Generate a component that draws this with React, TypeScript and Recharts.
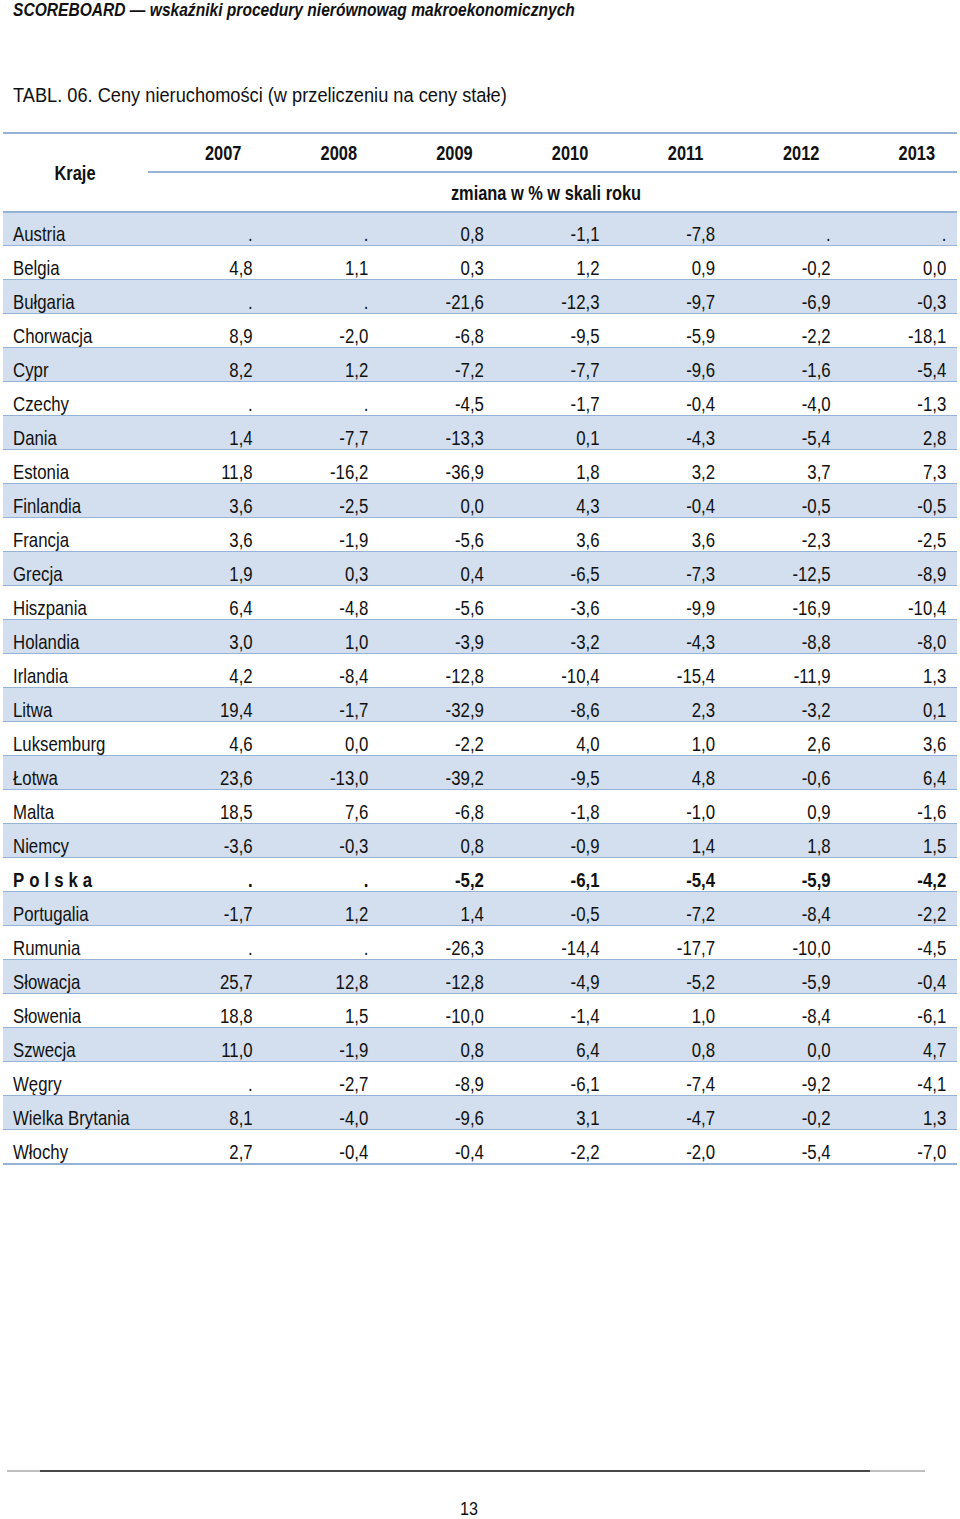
import { ScatterChart, Scatter, XAxis, YAxis, ReferenceArea } from 'recharts';

const countries = [
  'Austria', 'Belgia', 'Bułgaria', 'Chorwacja', 'Cypr', 'Czechy', 'Dania',
  'Estonia', 'Finlandia', 'Francja', 'Grecja', 'Hiszpania', 'Holandia',
  'Irlandia', 'Litwa', 'Luksemburg', 'Łotwa', 'Malta', 'Niemcy', 'Polska',
  'Portugalia', 'Rumunia', 'Słowacja', 'Słowenia', 'Szwecja', 'Węgry',
  'Wielka Brytania', 'Włochy',
];

const years = [2007, 2008, 2009, 2010, 2011, 2012, 2013];

// null = brak danych (".")
const v2007 = [null, 4.8, null, 8.9, 8.2, null, 1.4, 11.8, 3.6, 3.6, 1.9, 6.4, 3.0, 4.2, 19.4, 4.6, 23.6, 18.5, -3.6, null, -1.7, null, 25.7, 18.8, 11.0, null, 8.1, 2.7];
const v2008 = [null, 1.1, null, -2.0, 1.2, null, -7.7, -16.2, -2.5, -1.9, 0.3, -4.8, 1.0, -8.4, -1.7, 0.0, -13.0, 7.6, -0.3, null, 1.2, null, 12.8, 1.5, -1.9, -2.7, -4.0, -0.4];
const v2009 = [0.8, 0.3, -21.6, -6.8, -7.2, -4.5, -13.3, -36.9, 0.0, -5.6, 0.4, -5.6, -3.9, -12.8, -32.9, -2.2, -39.2, -6.8, 0.8, -5.2, 1.4, -26.3, -12.8, -10.0, 0.8, -8.9, -9.6, -0.4];
const v2010 = [-1.1, 1.2, -12.3, -9.5, -7.7, -1.7, 0.1, 1.8, 4.3, 3.6, -6.5, -3.6, -3.2, -10.4, -8.6, 4.0, -9.5, -1.8, -0.9, -6.1, -0.5, -14.4, -4.9, -1.4, 6.4, -6.1, 3.1, -2.2];
const v2011 = [-7.8, 0.9, -9.7, -5.9, -9.6, -0.4, -4.3, 3.2, -0.4, 3.6, -7.3, -9.9, -4.3, -15.4, 2.3, 1.0, 4.8, -1.0, 1.4, -5.4, -7.2, -17.7, -5.2, 1.0, 0.8, -7.4, -4.7, -2.0];
const v2012 = [null, -0.2, -6.9, -2.2, -1.6, -4.0, -5.4, 3.7, -0.5, -2.3, -12.5, -16.9, -8.8, -11.9, -3.2, 2.6, -0.6, 0.9, 1.8, -5.9, -8.4, -10.0, -5.9, -8.4, 0.0, -9.2, -0.2, -5.4];
const v2013 = [null, 0.0, -0.3, -18.1, -5.4, -1.3, 2.8, 7.3, -0.5, -2.5, -8.9, -10.4, -8.0, 1.3, 0.1, 3.6, 6.4, -1.6, 1.5, -4.2, -2.2, -4.5, -0.4, -6.1, 4.7, -4.1, 1.3, -7.0];

const highlighted = 'Polska';

const columns = [v2007, v2008, v2009, v2010, v2011, v2012, v2013];
const cells = years.flatMap((year, j) =>
  countries.map((country, i) => ({ year, country, value: columns[j][i] }))
);

// no Arial Narrow here: squeeze Liberation Sans horizontally instead
const FONT = '"Liberation Sans", Arimo, Arial, sans-serif';
const SX = 0.82;
const ROW_FILL = '#D3DFEE';
const LINE = '#95B3D7';
const TEXT = '#111';

const fmt = (v: number | null) => (v === null ? '.' : v.toFixed(1).replace('.', ','));

const NText = ({ x, y, anchor = 'start', size = 20.5, bold = false, italic = false, spacing = 0, sx = SX, children }: any) => (
  <text
    transform={`translate(${x},${y}) scale(${sx},1)`}
    textAnchor={anchor}
    fontFamily={FONT}
    fontSize={size}
    fontWeight={bold ? 'bold' : 'normal'}
    fontStyle={italic ? 'italic' : 'normal'}
    letterSpacing={spacing}
    fill={TEXT}
  >
    {children}
  </text>
);

const RowBand = (shaded: boolean) => (props: any) => {
  const { x, y, width, height } = props;
  return (
    <g>
      <rect x={x} y={y} width={width} height={height} fill={shaded ? ROW_FILL : '#fff'} />
      <line x1={x} x2={x + width} y1={y + height} y2={y + height} stroke={LINE} strokeWidth={2} />
    </g>
  );
};

const CellText = (props: any) => {
  const { cx, cy, payload } = props;
  if (cx == null || cy == null) return null;
  return (
    <NText x={cx + 29.5} y={cy + 12} anchor="end" bold={payload.country === highlighted}>
      {fmt(payload.value)}
    </NText>
  );
};

const CountryTick = (props: any) => {
  const { y, payload } = props;
  const bold = payload.value === highlighted;
  return (
    <NText x={13} y={y + 12} bold={bold} spacing={bold ? 6.1 : 0}>
      {payload.value}
    </NText>
  );
};

const YearTick = (props: any) => {
  const { x, payload } = props;
  return (
    <NText x={x} y={160} anchor="middle" size={20} bold>
      {payload.value}
    </NText>
  );
};

export default function App() {
  return (
    <div style={{ position: 'absolute', left: 0, top: 0, width: 960, height: 1519, background: '#fff' }}>
      <ScatterChart width={960} height={1519} margin={{ top: 132, right: 3, bottom: 355, left: 3 }}>
        <XAxis
          type="number"
          dataKey="year"
          orientation="top"
          height={80}
          domain={[2005.095, 2013.3476]}
          ticks={years}
          tick={<YearTick />}
          axisLine={false}
          tickLine={false}
          allowDataOverflow
        />
        <YAxis
          type="category"
          dataKey="country"
          scale="band"
          reversed
          mirror
          interval={0}
          allowDuplicatedCategory={false}
          tick={<CountryTick />}
          axisLine={false}
          tickLine={false}
        />
        {countries.map((c, i) => (
          <ReferenceArea key={c} y1={c} y2={c} ifOverflow="visible" shape={RowBand(i % 2 === 0)} />
        ))}
        <Scatter data={cells} shape={<CellText />} isAnimationActive={false} />
      </ScatterChart>

      <svg width={960} height={1519} style={{ position: 'absolute', left: 0, top: 0, pointerEvents: 'none' }}>
        <NText x={13} y={16} size={18} bold italic sx={0.866}>
          SCOREBOARD — wskaźniki procedury nierównowag makroekonomicznych
        </NText>
        <NText x={13} y={102} size={19.5} sx={0.935}>
          TABL. 06. Ceny nieruchomości (w przeliczeniu na ceny stałe)
        </NText>
        <line x1={3} x2={957} y1={133} y2={133} stroke={LINE} strokeWidth={2} />
        <line x1={148} x2={957} y1={172} y2={172} stroke={LINE} strokeWidth={2} />
        <line x1={3} x2={957} y1={212} y2={212} stroke={LINE} strokeWidth={2} />
        <NText x={75} y={180} anchor="middle" size={20} bold>
          Kraje
        </NText>
        <NText x={546} y={200} anchor="middle" size={20} bold>
          zmiana w % w skali roku
        </NText>
        <line x1={7} x2={925} y1={1471} y2={1471} stroke="#aaa" strokeWidth={1.5} />
        <line x1={40} x2={870} y1={1471} y2={1471} stroke="#222" strokeWidth={1.5} />
        <NText x={469} y={1515} anchor="middle" size={19} sx={0.85}>
          13
        </NText>
      </svg>
    </div>
  );
}
